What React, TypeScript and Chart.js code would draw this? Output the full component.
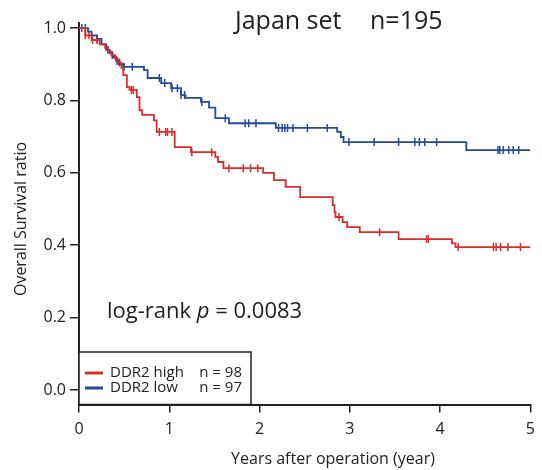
import React, { useEffect, useRef } from "react";
import { Chart, registerables } from "chart.js";

Chart.register(...registerables);

// ---- Data ----
const highTimes = [0, 0.07, 0.14, 0.23, 0.29, 0.32, 0.36, 0.40, 0.43, 0.47, 0.49, 0.53, 0.56, 0.64, 0.67, 0.70, 0.83, 0.86, 1.06, 1.24, 1.51, 1.54, 1.60, 2.04, 2.16, 2.29, 2.45, 2.81, 2.83, 2.84, 2.92, 2.97, 3.11, 3.54, 4.13, 4.17, 5.0];
const highSurv = [1.0, 0.98, 0.967, 0.955, 0.945, 0.935, 0.925, 0.915, 0.905, 0.89, 0.87, 0.837, 0.829, 0.809, 0.773, 0.76, 0.745, 0.713, 0.671, 0.657, 0.644, 0.63, 0.613, 0.60, 0.58, 0.561, 0.533, 0.511, 0.492, 0.478, 0.464, 0.45, 0.436, 0.417, 0.405, 0.395, 0.395];
const highCensor = [0.07, 0.11, 0.15, 0.20, 0.37, 0.45, 0.58, 0.60, 0.89, 0.96, 0.98, 1.03, 1.25, 1.47, 1.66, 1.82, 1.90, 1.98, 2.88, 3.33, 3.85, 3.87, 4.20, 4.59, 4.62, 4.67, 4.75, 4.89];

const lowTimes = [0, 0.10, 0.14, 0.20, 0.25, 0.30, 0.34, 0.37, 0.41, 0.44, 0.49, 0.72, 0.76, 0.91, 1.02, 1.13, 1.18, 1.35, 1.44, 1.51, 1.66, 2.18, 2.86, 2.90, 2.93, 4.29, 5.0];
const lowSurv = [1.0, 0.99, 0.98, 0.97, 0.955, 0.94, 0.93, 0.92, 0.91, 0.90, 0.893, 0.884, 0.862, 0.848, 0.834, 0.815, 0.807, 0.796, 0.78, 0.751, 0.737, 0.724, 0.713, 0.699, 0.685, 0.663, 0.663];
const lowCensor = [0.03, 0.07, 0.20, 0.32, 0.42, 0.50, 0.59, 0.89, 0.95, 1.03, 1.09, 1.13, 1.17, 1.36, 1.62, 1.84, 1.88, 1.96, 2.21, 2.25, 2.28, 2.31, 2.37, 2.53, 2.75, 2.99, 3.27, 3.54, 3.72, 3.77, 3.83, 3.96, 4.64, 4.66, 4.70, 4.76, 4.81, 4.87];

const xTicks = [0, 1, 2, 3, 4, 5];
const yTicks = [0, 0.2, 0.4, 0.6, 0.8, 1.0];

const titleParts = ["Japan set", "n=195"];
const pValueText = ["log-rank ", "p", " = 0.0083"];
const xTitle = "Years after operation (year)";
const yTitle = "Overall Survival ratio";
const legendLabels = ["DDR2 high", "DDR2 low"];
const legendCounts = ["n = 98", "n = 97"];

const RED = "#dc2b2b";
const BLUE = "#25499e";
const INK = "#222222";
const FONT = '"Open Sans", "Noto Sans", sans-serif';

function survAt(times: number[], surv: number[], t: number): number {
  let s = surv[0];
  for (let i = 0; i < times.length; i++) if (times[i] <= t) s = surv[i];
  return s;
}

const overlay = {
  id: "overlay",
  afterDraw(chart: any) {
    const ctx = chart.ctx as CanvasRenderingContext2D;
    ctx.save();
    ctx.fillStyle = INK;
    ctx.textBaseline = "middle";
    ctx.textAlign = "left";

    // title
    ctx.font = `25px ${FONT}`;
    ctx.fillText(titleParts[0], 235, 22);
    ctx.fillText(titleParts[1], 370, 22);

    // log-rank p
    let x = 107;
    const y = 312;
    ctx.font = `22px ${FONT}`;
    ctx.fillText(pValueText[0], x, y);
    x += ctx.measureText(pValueText[0]).width;
    ctx.font = `italic 22px ${FONT}`;
    ctx.fillText(pValueText[1], x, y);
    x += ctx.measureText(pValueText[1]).width;
    ctx.font = `22px ${FONT}`;
    ctx.fillText(pValueText[2], x, y);

    // x title
    ctx.font = `16px ${FONT}`;
    ctx.textAlign = "center";
    ctx.fillText(xTitle, 333, 459);

    // y title
    ctx.save();
    ctx.translate(21, 219);
    ctx.rotate(-Math.PI / 2);
    ctx.fillText(yTitle, 0, 0);
    ctx.restore();

    // legend box
    const left = chart.chartArea.left;
    const bottom = chart.chartArea.bottom;
    ctx.fillStyle = "#ffffff";
    ctx.fillRect(left, 352, 251 - left, bottom - 352);
    ctx.strokeStyle = INK;
    ctx.lineWidth = 1.5;
    ctx.strokeRect(left, 352, 251 - left, bottom - 352);
    const rows = [373, 388];
    const cols = [RED, BLUE];
    ctx.font = `15px ${FONT}`;
    for (let i = 0; i < 2; i++) {
      ctx.strokeStyle = cols[i];
      ctx.lineWidth = 3;
      ctx.beginPath();
      ctx.moveTo(85, rows[i]);
      ctx.lineTo(103, rows[i]);
      ctx.stroke();
      ctx.fillStyle = INK;
      ctx.textAlign = "left";
      ctx.fillText(legendLabels[i], 110, rows[i]);
      ctx.textAlign = "right";
      ctx.fillText(legendCounts[i], 242, rows[i]);
    }
    ctx.restore();
  },
};

export default function App() {
  const ref = useRef<HTMLCanvasElement | null>(null);
  useEffect(() => {
    if (!ref.current) return;
    const stepData = (t: number[], s: number[]) => t.map((v, i) => ({ x: v, y: s[i] }));
    const censorData = (c: number[], t: number[], s: number[]) => c.map((v) => ({ x: v, y: survAt(t, s, v) }));
    const chart = new Chart(ref.current, {
      type: "line",
      data: {
        datasets: [
          { data: stepData(highTimes, highSurv), borderColor: RED, borderWidth: 1.8, stepped: "before", pointRadius: 0, fill: false },
          { data: stepData(lowTimes, lowSurv), borderColor: BLUE, borderWidth: 1.8, stepped: "before", pointRadius: 0, fill: false },
          { data: censorData(highCensor, highTimes, highSurv), showLine: false, pointStyle: "line", rotation: 90, pointRadius: 4, borderColor: RED, pointBorderWidth: 1.5 },
          { data: censorData(lowCensor, lowTimes, lowSurv), showLine: false, pointStyle: "line", rotation: 90, pointRadius: 4, borderColor: BLUE, pointBorderWidth: 1.5 },
        ],
      } as any,
      options: {
        responsive: false,
        animation: false,
        events: [],
        layout: { padding: { left: 0, right: 7, top: 23, bottom: 0 } },
        plugins: { legend: { display: false }, tooltip: { enabled: false }, title: { display: false } },
        scales: {
          x: {
            type: "linear",
            min: 0,
            max: 5,
            afterBuildTicks: (s: any) => { s.ticks = xTicks.map((v) => ({ value: v })); },
            afterFit: (s: any) => { s.height = 65.5; },
            grid: { drawOnChartArea: false, drawTicks: true, tickLength: 8, color: INK, lineWidth: 1.5 },
            border: { display: true, color: INK, width: 2 },
            ticks: { color: INK, font: { family: FONT, size: 16 }, padding: 7, maxRotation: 0, autoSkip: false, callback: (v: any) => String(v) },
          },
          y: {
            type: "linear",
            min: -0.04,
            max: 1.014,
            afterBuildTicks: (s: any) => { s.ticks = yTicks.map((v) => ({ value: v })); },
            afterFit: (s: any) => { s.width = 79; },
            grid: { drawOnChartArea: false, drawTicks: true, tickLength: 9, color: INK, lineWidth: 1.5 },
            border: { display: true, color: INK, width: 2 },
            ticks: { color: INK, font: { family: FONT, size: 16 }, padding: 4, autoSkip: false, callback: (v: any) => Number(v).toFixed(1) },
          },
        },
      } as any,
      plugins: [overlay],
    });
    return () => chart.destroy();
  }, []);
  return (
    <div style={{ position: "fixed", left: 0, top: 0, width: 542, height: 470, background: "#fff" }}>
      <canvas ref={ref} width={542} height={470} style={{ display: "block" }} />
    </div>
  );
}
